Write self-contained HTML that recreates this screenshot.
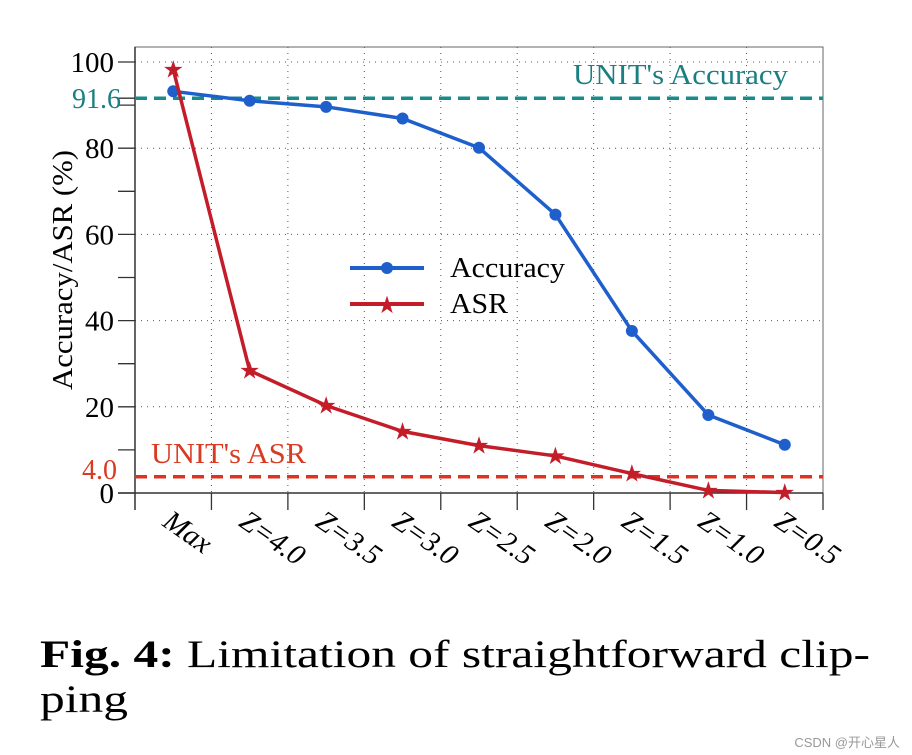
<!DOCTYPE html>
<html><head><meta charset="utf-8"><style>
body{margin:0;background:#fff;width:912px;height:755px;overflow:hidden}
svg{display:block;font-family:"Liberation Serif",serif}
</style></head><body>
<svg id="chart" width="912" height="755" viewBox="0 0 912 755" xmlns="http://www.w3.org/2000/svg">
<g id="grid"></g>
<g id="axes"></g>
<g id="refs"></g>
<g id="series"></g>
<text transform="translate(72,270) rotate(-90)" text-anchor="middle" font-size="28" textLength="240" lengthAdjust="spacingAndGlyphs" fill="#000">Accuracy/ASR (%)</text>
<g>
 <g>
  <line x1="350" y1="268" x2="424" y2="268" stroke="#1f5fcc" stroke-width="4"/>
  <circle cx="387" cy="268" r="6" fill="#1f5fcc"/>
  <text x="450" y="277" font-size="29" textLength="115" lengthAdjust="spacingAndGlyphs">Accuracy</text>
 </g>
 <g>
  <line x1="350" y1="304" x2="424" y2="304" stroke="#c41d2a" stroke-width="4"/>
  <text x="387" y="313" text-anchor="middle" font-size="24" fill="#c41d2a">★</text>
  <text x="450" y="313" font-size="29" textLength="58" lengthAdjust="spacingAndGlyphs">ASR</text>
 </g>
</g>
<text x="40" y="667" font-size="39" textLength="830" lengthAdjust="spacingAndGlyphs" fill="#000"><tspan font-weight="bold">Fig. 4:</tspan> Limitation of straightforward clip-</text>
<text x="40" y="712" font-size="39" textLength="88" lengthAdjust="spacingAndGlyphs" fill="#000">ping</text>
<text x="900" y="747" text-anchor="end" font-size="13" fill="#999" font-family="Liberation Sans, Noto Sans CJK SC, sans-serif">CSDN @开心星人</text>
</svg>
<script>
const categories=["Max","Z=4.0","Z=3.5","Z=3.0","Z=2.5","Z=2.0","Z=1.5","Z=1.0","Z=0.5"];
const accuracy=[93.2,91.0,89.6,86.9,80.1,64.6,37.6,18.1,11.2];
const asr=[98.3,28.4,20.3,14.3,11.0,8.6,4.5,0.6,0.1];
const yTicks=[0,20,40,60,80,100];
const yMinorTicks=[10,30,50,70,90];
const unitAccuracy=91.6;
const unitASR=4.0;

const NS="http://www.w3.org/2000/svg";
const L=135,R=823,T=47,B=493;
const bw=(R-L)/categories.length;
function x(i){return L+bw*(i+0.5);}
function y(v){return B-(v/100)*(B-62);}
function mk(tag,attrs,parent,txt){const e=document.createElementNS(NS,tag);for(const k in attrs)e.setAttribute(k,attrs[k]);if(txt!==undefined)e.textContent=txt;parent.appendChild(e);return e;}
const grid=document.getElementById('grid'),axes=document.getElementById('axes'),refs=document.getElementById('refs'),series=document.getElementById('series');

for(let i=1;i<categories.length;i++){
 const g=mk('line',{x1:L+bw*i,x2:L+bw*i,y1:T,y2:B,stroke:'#555','stroke-width':1,'stroke-dasharray':'1 5'},grid);
 
 
}
yTicks.forEach(v=>{if(v===0)return;
 const g=mk('line',{x1:L,x2:R,y1:y(v),y2:y(v),stroke:'#555','stroke-width':1,'stroke-dasharray':'1 5'},grid);
 
 
});
mk('rect',{x:L,y:T,width:R-L,height:B-T,fill:'none',stroke:'#666','stroke-width':1},axes);
mk('line',{x1:L,x2:L,y1:T,y2:B+17,stroke:'#333','stroke-width':1.5},axes);
mk('line',{x1:118,x2:R,y1:B,y2:B,stroke:'#333','stroke-width':1.5},axes);
yTicks.forEach(v=>{
 mk('line',{x1:118,x2:L,y1:y(v),y2:y(v),stroke:'#333','stroke-width':1.3},axes);
 const t=mk('text',{x:114,y:y(v)+10,'text-anchor':'end','font-size':29},axes,String(v));
 
 
});
yMinorTicks.forEach(v=>{mk('line',{x1:118,x2:L,y1:y(v),y2:y(v),stroke:'#333','stroke-width':1.3},axes);});
mk('line',{x1:118,x2:L,y1:y(unitAccuracy),y2:y(unitAccuracy),stroke:'#333','stroke-width':1.3},axes);
for(let i=1;i<=categories.length;i++){mk('line',{x1:L+bw*i,x2:L+bw*i,y1:B,y2:B+17,stroke:'#333','stroke-width':1.3},axes);}
categories.forEach((c,i)=>{
 const t=mk('text',{transform:`translate(${x(i)-12},${B+32}) rotate(35)`,'font-size':29,'font-style':'italic'},axes,c);
 
 
});
mk('line',{x1:L,x2:R,y1:y(unitAccuracy),y2:y(unitAccuracy),stroke:'#1a8a8a','stroke-width':3.5,'stroke-dasharray':'12 7'},refs);
mk('text',{x:121,y:y(unitAccuracy)+10,'text-anchor':'end','font-size':28,fill:'#1a7f82'},refs,unitAccuracy.toFixed(1));
mk('text',{x:573,y:84,'font-size':28,fill:'#1a7f82',textLength:215,lengthAdjust:'spacingAndGlyphs'},refs,"UNIT's Accuracy");
mk('line',{x1:L,x2:R,y1:y(unitASR)+1,y2:y(unitASR)+1,stroke:'#dd3322','stroke-width':3.5,'stroke-dasharray':'12 7'},refs);
mk('text',{x:117,y:y(unitASR)+3,'text-anchor':'end','font-size':28,fill:'#d93a22'},refs,unitASR.toFixed(1));
mk('text',{x:151,y:463,'font-size':28,fill:'#d93a22',textLength:155,lengthAdjust:'spacingAndGlyphs'},refs,"UNIT's ASR");
const accLine=mk('polyline',{points:accuracy.map((v,i)=>x(i)+','+y(v)).join(' '),fill:'none',stroke:'#1f5fcc','stroke-width':3.5},series);


accuracy.forEach((v,i)=>{
 const c=mk('circle',{cx:x(i),cy:y(v),r:6,fill:'#1f5fcc'},series);
 
 
});
const asrLine=mk('polyline',{points:asr.map((v,i)=>x(i)+','+y(v)).join(' '),fill:'none',stroke:'#c41d2a','stroke-width':3.5},series);


asr.forEach((v,i)=>{
 const s=mk('text',{x:x(i),y:y(v)+8,'text-anchor':'middle','font-size':24,fill:'#c41d2a','font-family':'DejaVu Sans, sans-serif'},series,'★');
 
 
});
</script>
</body></html>
